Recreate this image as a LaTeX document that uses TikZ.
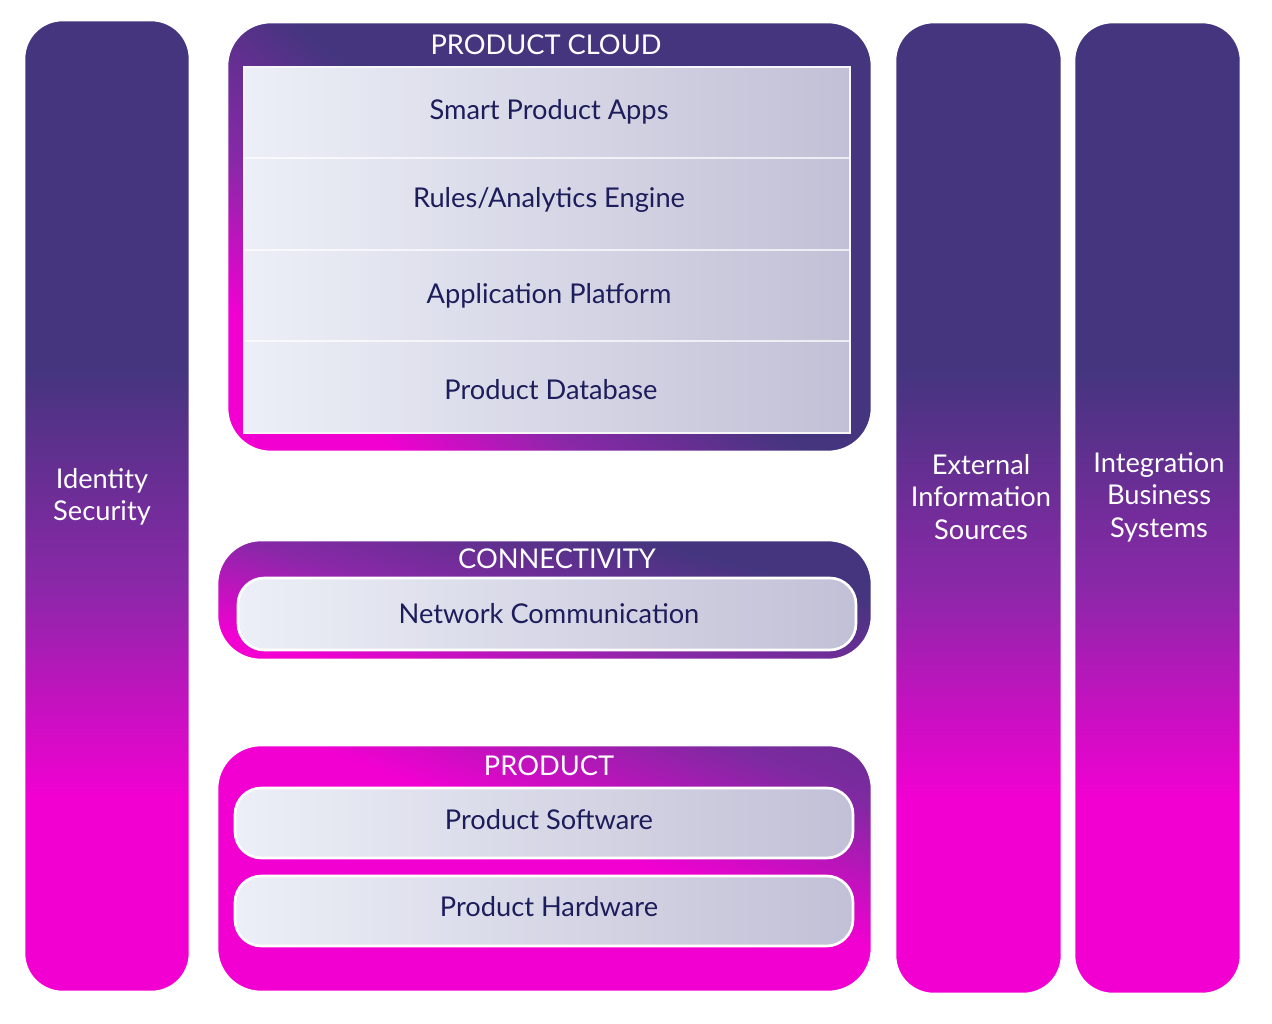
\documentclass[tikz,border=0pt]{standalone}
\usepackage{fontspec}
\setmainfont{Lato}
\definecolor{dk}{HTML}{45357F}
\definecolor{md}{HTML}{8A28A8}
\definecolor{mg}{HTML}{F200D2}
\definecolor{lt}{HTML}{ECEFF7}
\definecolor{lr}{HTML}{C2C0D6}
\definecolor{tx}{HTML}{1E1D5C}
\pgfdeclareverticalshading{col}{100bp}{color(0bp)=(mg); color(25bp)=(mg); color(35bp)=(mg); color(46bp)=(md); color(57bp)=(dk); color(75bp)=(dk); color(100bp)=(dk)}
\pgfdeclarehorizontalshading{boxc}{100bp}{color(0bp)=(mg); color(25bp)=(mg); color(36bp)=(md); color(50bp)=(dk); color(100bp)=(dk)}
\pgfdeclarehorizontalshading{box}{100bp}{color(0bp)=(mg); color(25bp)=(mg); color(45bp)=(md); color(68bp)=(dk); color(100bp)=(dk)}
\pgfdeclarehorizontalshading{boxp}{100bp}{color(0bp)=(mg); color(25bp)=(mg); color(55bp)=(mg); color(75bp)=(md!80!dk); color(100bp)=(dk)}
\begin{document}
\begin{tikzpicture}[x=0.02cm,y=-0.02cm,
 col/.style={rounded corners=22pt,shading=col,draw=white,line width=1.5pt},
 txt/.style={text=tx,font=\fontsize{15.5}{18}\selectfont},
 wtxt/.style={text=white,font=\fontsize{15.5}{18.5}\selectfont,align=center},
 inner/.style={rounded corners=15pt,left color=lt,right color=lr,draw=white,line width=1.5pt},
 row/.style={left color=lt,right color=lr,draw=none}]
\useasboundingbox[fill=white] (0,0) rectangle (1272,1024);
% columns
\path[col] (24,20) rectangle (190,992);
\node[wtxt] (ids) at (102,497) {Identity\\Security};
\path[col] (895,22) rectangle (1062,994);
\node[wtxt] (ext) at (981,497) {External\\Information\\Sources};
\path[col] (1074,22) rectangle (1241,994);
\node[wtxt] (int) at (1159,497) {Integration\\Business\\Systems};
% product cloud
\path[rounded corners=25pt,shading=boxc,shading angle=50,draw=white,line width=1.5pt] (227,22) rectangle (872,452);
\node[wtxt] (pc) at (546,45) {PRODUCT CLOUD};
\path[row] (244,67) rectangle (850,433);
\draw[white!85!lr,line width=1pt] (244,67) rectangle (850,433);
\foreach \y in {158,250,341} \draw[white,line width=1pt,opacity=.7] (244,\y) -- (850,\y);
\node[txt] (a1) at (549,112) {Smart Product Apps};
\node[txt] (a2) at (549,200) {Rules/Analytics Engine};
\node[txt] (a3) at (549,296) {Application Platform};
\node[txt] (a4) at (551,390) {Product Database};
% connectivity
\path[rounded corners=25pt,shading=box,shading angle=75,draw=white,line width=1.5pt] (217,540) rectangle (872,660);
\node[wtxt] (cn) at (557,559) {CONNECTIVITY};
\path[inner] (238,578) rectangle (856,650);
\node[txt] (nc) at (549,614) {Network Communication};
% product
\path[rounded corners=25pt,shading=boxp,shading angle=70,draw=white,line width=1.5pt] (217,745) rectangle (872,992);
\node[wtxt] (pr) at (549,766) {PRODUCT};
\path[inner] (235,788) rectangle (853,858);
\node[txt] (ps) at (549,820) {Product Software};
\path[inner] (235,876) rectangle (853,946);
\node[txt] (ph) at (549,907) {Product Hardware};
\end{tikzpicture}
\end{document}
